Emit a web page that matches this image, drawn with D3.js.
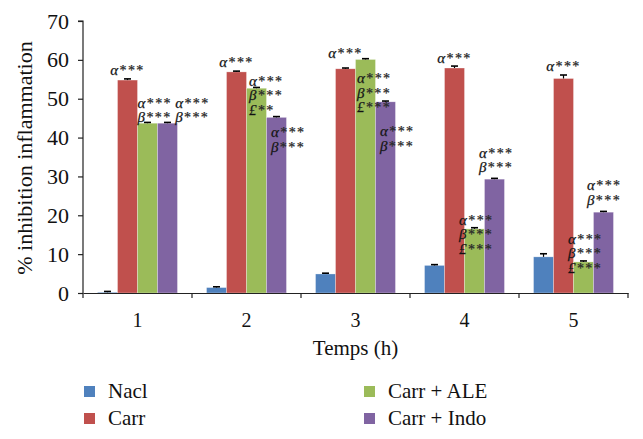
<!DOCTYPE html>
<html><head><meta charset="utf-8">
<script src="https://cdn.jsdelivr.net/npm/d3@7/dist/d3.min.js"></script>
<style>
body{margin:0;background:#fff;}
svg{display:block;}
</style></head>
<body>
<svg id="chart" width="643" height="439" font-family="Liberation Serif"></svg>
<script>
// ---- data ----
const categories = ["1","2","3","4","5"];
const seriesNames = ["Nacl","Carr","Carr + ALE","Carr + Indo"];
const naclValues = [0.2, 1.4, 4.9, 7.1, 9.3];
const carrValues = [54.8, 56.9, 57.7, 57.9, 55.2];
const aleValues  = [43.7, 52.7, 60.1, 16.5, 8.0];
const indoValues = [43.7, 45.2, 49.2, 29.3, 20.8];
const naclErr = [0.2, 0.2, 0.2, 0.2, 0.8];
const carrErr = [0.3, 0.2, 0.2, 0.5, 0.9];
const aleErr  = [0.2, 0.2, 0.2, 0.3, 0.25];
const indoErr = [0.2, 0.2, 0.2, 0.2, 0.2];
const yTicks = [0,10,20,30,40,50,60,70];
const colors = ["#4F81BD","#C0504D","#9BBB59","#8064A2"];

// significance annotations
const annCategory = ["1","1","1","2","2","2","3","3","3","4","4","4","5","5","5"];
const annSeries = ["Carr","Carr + ALE","Carr + Indo","Carr","Carr + ALE","Carr + Indo","Carr","Carr + ALE","Carr + Indo","Carr","Carr + ALE","Carr + Indo","Carr","Carr + ALE","Carr + Indo"];
const annText = [["α***"],["α***","β***"],["α***","β***"],
                 ["α***"],["α***","β***","£**"],["α***","β***"],
                 ["α***"],["α***","β***","£***"],["α***","β***"],
                 ["α***"],["α***","β***","£***"],["α***","β***"],
                 ["α***"],["α***","β***","£***"],["α***","β***"]];
// layout of annotations (px offset from bar left / bar top)
const annDx = [null,0,17.7, null,2.5,4.5, null,1.5,4.5, null,-5.5,-5.5, null,-5.5,-6.5];
const annDy = [-8.6,-19.3,-19.3, -9,-6.3,15.7, -14.7,19.7,30.3, -9.3,-8,-25.3, -11.7,-22,-26];

const valuesBySeries = [naclValues, carrValues, aleValues, indoValues];
const errBySeries = [naclErr, carrErr, aleErr, indoErr];
const rows = [];
categories.forEach((c,i)=>seriesNames.forEach((s,j)=>rows.push({cat:c, series:s, value:valuesBySeries[j][i], err:errBySeries[j][i], color:colors[j]})));

const FONT = "Liberation Serif";
const svg = d3.select("#chart");
const margin = {left:83, right:15, top:21, bottom:146};
const W = 643, H = 439;
const x0 = d3.scaleBand().domain(categories).range([margin.left, W-margin.right]).padding(0);
const bw = x0.bandwidth();
const gap = bw*0.1333;
const x1 = d3.scaleBand().domain(seriesNames).range([gap, bw-gap]).padding(0);
const y = d3.scaleLinear().domain([0,70]).range([H-margin.bottom, margin.top]);

// bars
svg.append("g").selectAll("rect").data(rows).join("rect")
  .attr("x", d=>x0(d.cat)+x1(d.series))
  .attr("y", d=>y(d.value))
  .attr("width", x1.bandwidth())
  .attr("height", d=>y(0)-y(d.value))
  .attr("fill", d=>d.color)
  .attr("stroke","#fff").attr("stroke-opacity",0.5).attr("stroke-width",0.6);

// error bars
const eg = svg.append("g").attr("stroke","#000").attr("stroke-width",1.2);
rows.forEach(d=>{
  const cx = x0(d.cat)+x1(d.series)+x1.bandwidth()/2;
  eg.append("line").attr("x1",cx).attr("x2",cx).attr("y1",y(d.value)).attr("y2",y(d.value+d.err));
  eg.append("line").attr("x1",cx-3.5).attr("x2",cx+3.5).attr("y1",y(d.value+d.err)).attr("y2",y(d.value+d.err)).attr("stroke-width",1.6);
});

// axes
const yAxis = d3.axisLeft(y).tickValues(yTicks).tickSize(5).tickPadding(9).tickFormat(d3.format("d"));
const gy = svg.append("g").attr("transform",`translate(${margin.left},0)`).call(yAxis)
  .attr("font-family",FONT).attr("font-size",22);
gy.select(".domain").attr("stroke","#222").attr("stroke-width",1.2).attr("d",`M-5,${y(70)}H0V${y(0)}`);
gy.selectAll(".tick line").attr("stroke","#222").attr("stroke-width",1.2);
gy.selectAll(".tick text").attr("fill","#111");

const xAxis = d3.axisBottom(x0).tickSize(0).tickPadding(20);
const gx = svg.append("g").attr("transform",`translate(0,${y(0)})`).call(xAxis)
  .attr("font-family",FONT).attr("font-size",20);
gx.select(".domain").attr("stroke","#222").attr("stroke-width",1.2);
gx.selectAll(".tick text").attr("fill","#111");
// boundary ticks between categories
const bounds = categories.map(c=>x0(c)).concat([x0(categories[categories.length-1])+bw]);
gx.selectAll(".bt").data(bounds).join("line").attr("class","bt")
  .attr("x1",d=>d).attr("x2",d=>d).attr("y1",0).attr("y2",5).attr("stroke","#222").attr("stroke-width",1.2);

// axis titles
svg.append("text").attr("x",(margin.left+W-margin.right)/2).attr("y",355).attr("text-anchor","middle")
  .attr("font-family",FONT).attr("font-size",21).attr("fill","#111").text("Temps (h)");
svg.append("text").attr("transform",`translate(32,158) rotate(-90)`).attr("text-anchor","middle")
  .attr("font-family",FONT).attr("font-size",22).attr("fill","#111").text("% inhibition inflammation");

// annotations
const ag = svg.append("g").attr("font-family",FONT);
annText.forEach((lines,k)=>{
  const cat = annCategory[k], s = annSeries[k];
  const j = seriesNames.indexOf(s), i = categories.indexOf(cat);
  const bx = x0(cat)+x1(s);
  const by = y(valuesBySeries[j][i]);
  const t = ag.append("text").attr("font-size",14).attr("letter-spacing",1.4)
    .attr("fill","#111").attr("stroke","#222").attr("stroke-width",0.25);
  const centered = annDx[k]===null;
  const tx = centered ? bx + x1.bandwidth()/2 : bx + annDx[k];
  t.attr("text-anchor", centered ? "middle":"start");
  lines.forEach((ln,li)=>{
    const yy = by + annDy[k] + li*14.5 + 4;
    const sp = t.append("tspan").attr("x",tx).attr("y",yy);
    sp.append("tspan").attr("font-style","italic").attr("font-size",15).text(ln[0]);
    sp.append("tspan").attr("fill","#333").text(ln.slice(1));
  });
});

// legend
const legX = [84, 364], legY = [386, 413];
seriesNames.forEach((s,j)=>{
  const col = j<2?0:1, row = j%2;
  svg.append("rect").attr("x",legX[col]).attr("y",legY[row]).attr("width",11).attr("height",11).attr("fill",colors[j]);
  svg.append("text").attr("x",legX[col]+24).attr("y",legY[row]+12).attr("font-family",FONT)
    .attr("font-size",21).attr("fill","#111").text(s);
});
</script>
</body></html>
